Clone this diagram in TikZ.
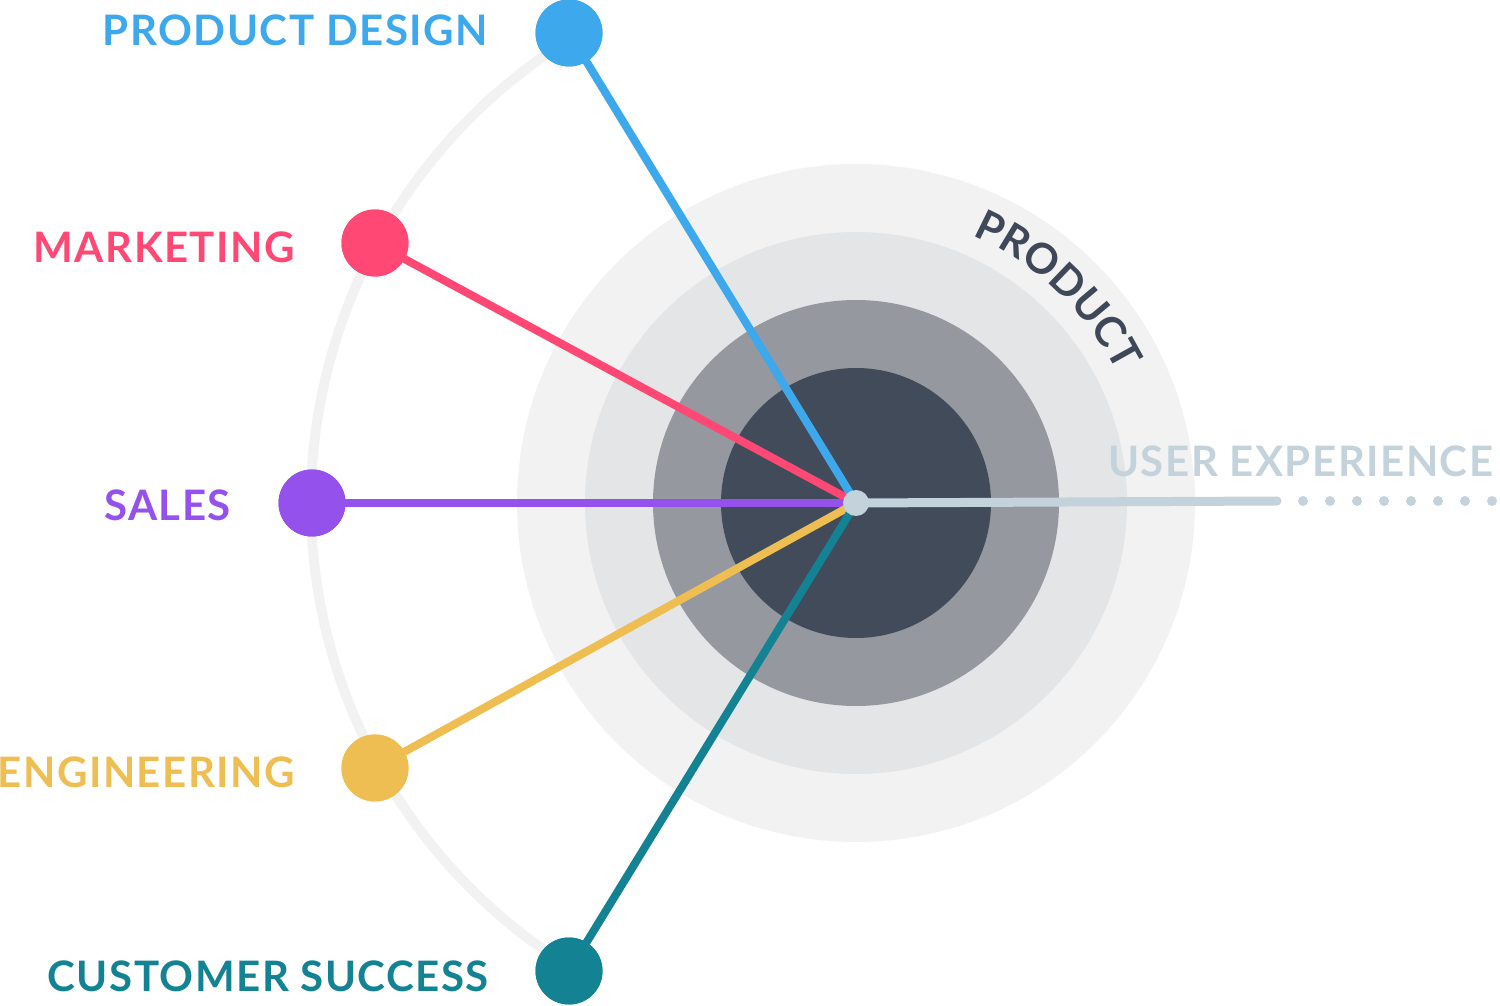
\documentclass[tikz,border=0pt]{standalone}
\usepackage{fontspec}
\setmainfont{Lato}
\newfontfamily\lblfam{Lato}[LetterSpace=3.5]
\usetikzlibrary{decorations.text}
\definecolor{pd}{HTML}{3DA8EC}
\definecolor{mk}{HTML}{FF4874}
\definecolor{sa}{HTML}{9551EC}
\definecolor{en}{HTML}{EEBE52}
\definecolor{cs}{HTML}{138394}
\definecolor{ux}{HTML}{C3D2DB}
\definecolor{ringa}{HTML}{F2F2F2}
\definecolor{ringb}{HTML}{E4E5E7}
\definecolor{ringc}{HTML}{95989F}
\definecolor{ringd}{HTML}{414B5A}
\definecolor{arcg}{HTML}{F2F2F2}
\definecolor{prodtxt}{HTML}{3F4858}
\newcommand{\lblfont}{\lblfam\fontsize{42}{42}\selectfont\bfseries}
\newcommand{\arcfont}{\fontsize{42}{42}\selectfont\bfseries}
\tikzset{
  dotnode/.style={circle, inner sep=0pt, minimum size=67pt},
  spoke/.style={line width=8pt},
  lbl/.style={font=\lblfont, inner sep=0pt, anchor=base east},
}
\begin{document}
\begin{tikzpicture}[x=1pt,y=1pt]
\useasboundingbox (0,0) rectangle (1500,1005);
\coordinate (C) at (856,502);
% rings
\fill[ringa] (C) circle[radius=339pt];
\fill[ringb] (C) circle[radius=271pt];
\fill[ringc] (C) circle[radius=203pt];
\fill[ringd] (C) circle[radius=135pt];
% big arc
\draw[arcg, line width=10pt] (C) ++(121:545pt) arc[start angle=121, end angle=239, radius=545pt];
% PRODUCT text on arc
\path[decorate, decoration={text along path, text={|\arcfont\color{prodtxt}|PRODUCT}, text align=center}]
  (C) ++(76.5:292pt) arc[start angle=76.5, end angle=16.5, radius=292pt];
% dots
\node[dotnode, fill=pd] (pd) at (569,972) {};
\node[dotnode, fill=mk] (mk) at (375,762) {};
\node[dotnode, fill=sa] (sa) at (312,502) {};
\node[dotnode, fill=en] (en) at (375,237) {};
\node[dotnode, fill=cs] (cs) at (569,34) {};
\coordinate (uxend) at (1277,504);
% spokes
\draw[spoke, pd] (C) -- (pd.center);
\draw[spoke, mk] (C) -- (mk.center);
\draw[spoke, sa] (C) -- (sa.center);
\draw[spoke, en] (C) -- (en.center);
\draw[spoke, cs] (C) -- (cs.center);
\draw[ux, line width=9pt, line cap=round] (C) -- (uxend);
% dots on top of spokes
\fill[pd] (pd) circle[radius=33.5pt];
\fill[mk] (mk) circle[radius=33.5pt];
\fill[sa] (sa) circle[radius=33.5pt];
\fill[en] (en) circle[radius=33.5pt];
\fill[cs] (cs) circle[radius=33.5pt];
\node[circle, fill=ux, inner sep=0pt, minimum size=26pt] (ctr) at (C) {};
% dotted continuation
\foreach \i in {0,...,7} {
  \fill[ux] (1303+27*\i,504) circle[radius=5pt];
}
% labels
\node[lbl, text=pd] (tpd) at (488,959) {PRODUCT DESIGN};
\node[lbl, text=mk] (tmk) at (295,742) {MARKETING};
\node[lbl, text=sa] (tsa) at (231,484) {SALES};
\node[lbl, text=en] (ten) at (295,217) {ENGINEERING};
\node[lbl, text=cs] (tcs) at (489,14) {CUSTOMER SUCCESS};
\node[lbl, text=ux, anchor=base west] (tux) at (1108,528) {USER EXPERIENCE};
\end{tikzpicture}
\end{document}
